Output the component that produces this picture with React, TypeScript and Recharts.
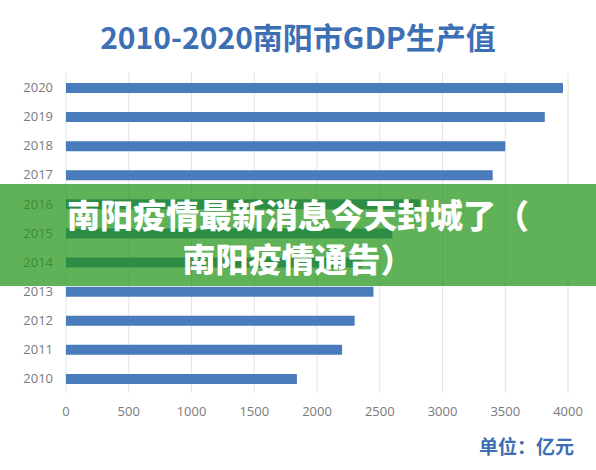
import React from "react";
import { BarChart, Bar, XAxis, YAxis, CartesianGrid } from "recharts";

const years = ["2010", "2011", "2012", "2013", "2014", "2015", "2016", "2017", "2018", "2019", "2020"];
const gdp = [1840, 2200, 2300, 2450, 2360, 2600, 2820, 3400, 3500, 3815, 3960];
const xTicks = [0, 500, 1000, 1500, 2000, 2500, 3000, 3500, 4000];

const title = "2010-2020南阳市GDP生产值";
const unitLabel = "单位：亿元";
const bannerLines = ["南阳疫情最新消息今天封城了（", "南阳疫情通告）"];

const data = years.map((year, i) => ({ year, value: gdp[i] }));

const tickStyle = { fontSize: 13, fill: "#7a7a7a", fontFamily: "'Open Sans', sans-serif" };

export default function App() {
  return (
    <div style={{ position: "absolute", left: 0, top: 0, width: 596, height: 470, background: "#fff", overflow: "hidden" }}>
      <div
        style={{
          position: "absolute",
          top: 16,
          left: 0,
          width: 596,
          textAlign: "center",
          fontFamily: "'Noto Sans CJK SC', sans-serif",
          fontWeight: 700,
          fontSize: 30,
          lineHeight: "40px",
          color: "#3d6fb4",
        }}
      >
        {title}
      </div>

      <BarChart
        width={596}
        height={470}
        data={data}
        layout="vertical"
        margin={{ top: 73, right: 28, bottom: 47, left: 10 }}
        style={{ position: "absolute", left: 0, top: 0 }}
      >
        <CartesianGrid horizontal={false} stroke="#e3e3e3" />
        <XAxis
          type="number"
          domain={[0, 4000]}
          ticks={xTicks}
          tick={tickStyle}
          tickLine={false}
          axisLine={false}
          tickMargin={8}
          height={30}
        />
        <YAxis
          type="category"
          dataKey="year"
          reversed
          width={56}
          tick={tickStyle}
          tickLine={false}
          axisLine={false}
          tickMargin={7}
        />
        <Bar dataKey="value" fill="#4a7cbc" barSize={10} isAnimationActive={false} />
      </BarChart>

      <div
        style={{
          position: "absolute",
          right: 22,
          top: 432,
          fontFamily: "'Noto Sans CJK SC', sans-serif",
          fontWeight: 700,
          fontSize: 19,
          color: "#3d6fb4",
        }}
      >
        {unitLabel}
      </div>

      {/* green caption band laid over the middle of the chart */}
      <div
        style={{
          position: "absolute",
          left: 0,
          top: 184,
          width: 596,
          height: 102,
          background: "rgba(34, 148, 24, 0.72)",
        }}
      >
        <div
          style={{
            position: "absolute",
            left: 0,
            top: 8,
            width: 596,
            textAlign: "center",
            fontFamily: "'Noto Sans CJK SC', sans-serif",
            fontWeight: 900,
            fontSize: 33,
            lineHeight: "44px",
            color: "#fff",
          }}
        >
          {bannerLines.map((line) => (
            <div key={line}>{line}</div>
          ))}
        </div>
      </div>
    </div>
  );
}
